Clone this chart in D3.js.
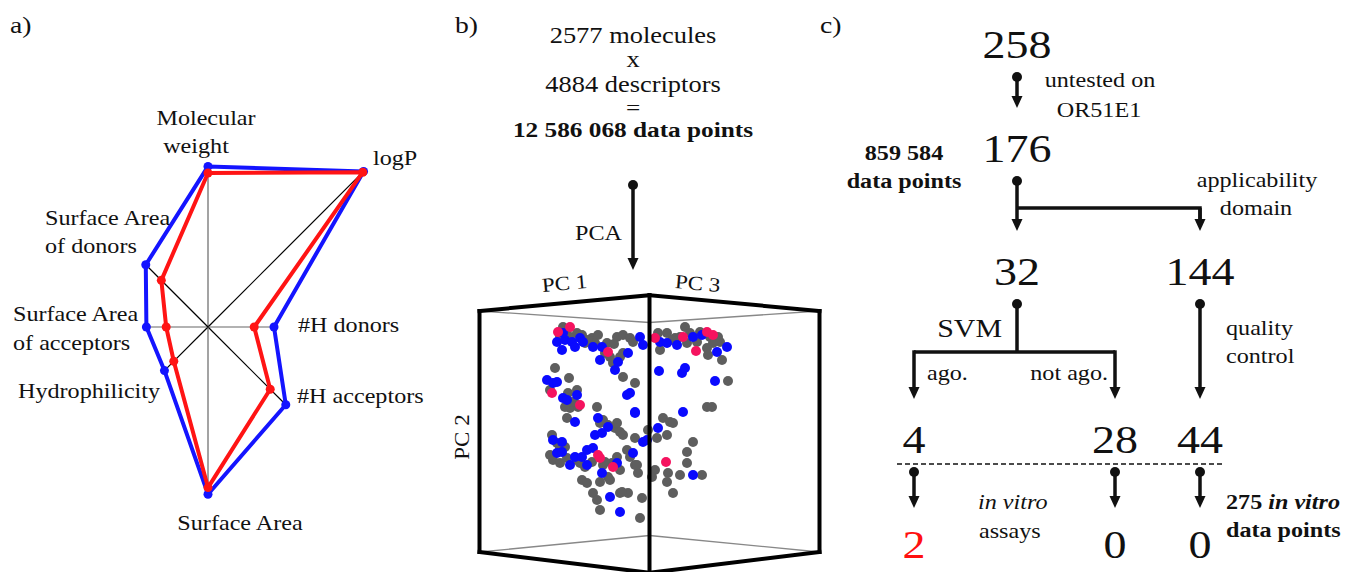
<!DOCTYPE html>
<html>
<head>
<meta charset="utf-8">
<script src="https://cdn.jsdelivr.net/npm/d3@7"></script>
<style>
  body { margin: 0; background: #fff; }
  svg { display: block; }
</style>
</head>
<body>
<div class="chart"></div>
<script>
// ---- data ----
// a) radar: values relative to the longest axis (logP)
const radarAxes = ['Molecular weight', 'logP', '#H donors', '#H acceptors',
  'Surface Area', 'Hydrophilicity', 'Surface Area of acceptors', 'Surface Area of donors'];
const blueValues = [0.73, 1.0, 0.30, 0.50, 0.76, 0.28, 0.28, 0.40];
const redValues = [0.70, 0.995, 0.21, 0.40, 0.73, 0.22, 0.19, 0.30];

// b) PCA projection (PC1/PC3 horizontal, PC2 vertical)
const grayPoints = [
  [-87, 105], [-83, 102], [-73, 99], [-68, 97], [-80, 95], [-65, 89], [-58, 94], [-52, 97], [-55, 89],
  [-43, 89], [-45, 79], [-40, 75], [-37, 69], [-30, 75], [-27, 79], [-33, 95], [-27, 97], [-20, 94],
  [-17, 90], [-27, 55], [-15, 49], [-62, 92], [-36, 88], [-90, 96],
  [8, 99], [17, 99], [10, 82], [25, 94], [30, 95], [35, 105], [40, 99], [37, 89], [47, 90], [60, 95],
  [68, 95], [70, 90], [57, 84], [58, 77], [72, 72], [63, 89], [78, 51], [22, 92], [50, 100], [65, 92],
  [-95, 64], [-81, 54], [-100, 42], [-82, 39], [-73, 42], [-75, 29], [-80, 24], [-72, 25], [-85, 25],
  [-83, 14], [-53, 25], [-78, 30],
  [-50, 9], [-47, 12], [-42, 7], [-35, 4], [-30, 0], [-27, -3], [-15, -6], [-2, 2], [7, -6], [-33, 9],
  [13, 14], [20, 10], [23, 9], [57, 25], [62, 25], [43, -10], [17, -3],
  [-98, -3], [-93, -11], [-85, -15], [-97, -28], [-100, -23], [-90, -31], [-83, -26], [-73, -28],
  [-65, -35], [-58, -30], [-47, -33], [-38, -31], [-33, -25], [-42, -45], [-23, -18], [-20, -25],
  [-15, -33], [-12, -41], [-30, -38], [-68, -48], [-63, -51], [-50, -50], [-40, -48],
  [-90, -16], [-70, -31], [-45, -30], [-13, -33],
  [37, -20], [37, -31], [18, -41], [30, -43], [52, -43], [17, -50], [5, -38], [2, -45],
  [-57, -61], [-53, -68], [-30, -61], [-22, -61], [-50, -78], [-10, -86], [-8, -66], [23, -61], [-28, -60]
];
const bluePoints = [
  [-93, 90], [-88, 82], [-85, 92], [-78, 90], [-75, 85], [-70, 94], [-67, 90], [-57, 85], [-48, 85],
  [-50, 72], [-35, 62], [-32, 70], [-22, 79], [-10, 95], [-7, 87], [-87, 99],
  [10, 90], [17, 89], [27, 87], [43, 95], [52, 97], [77, 85], [67, 80],
  [9, 61], [32, 59], [35, 64], [65, 51],
  [-103, 52], [-97, 49], [-93, 50], [-87, 34], [-83, 32], [-73, 37], [-75, 10],
  [-23, 37], [-20, 39], [-15, 20], [-52, 14], [-42, 5], [-55, -3], [-7, -10], [8, 4], [33, 20],
  [-48, -1], [-15, 19],
  [-97, -8], [-88, -10], [-93, -21], [-88, -20], [-80, -33], [-75, -25], [-68, -25], [-63, -18],
  [-57, -16], [-63, -33], [-48, -41], [-33, -31], [-17, -21],
  [43, -43], [-40, -65], [-30, -80], [-3, -8]
];
const pinkPoints = [
  [-92, 100], [-80, 105], [-42, 80], [5, 94], [33, 95], [57, 100], [63, 97], [46, 81],
  [-98, 39], [-70, 27], [-52, -23], [-50, -26], [-37, -35], [16, -30]
];

// c) flow counts
const stageCounts = [258, 176];
const domainCounts = [32, 144];
const classCounts = [4, 28, 44];
const assayCounts = [2, 0, 0];

// ---- drawing ----
const width = 1357;
const height = 572;
const stretch = 1.15; // the figure's lettering is slightly wide
const serif = '"Liberation Serif", "Times New Roman", Tinos, serif';

const svg = d3.select('.chart').append('svg')
  .attr('width', width)
  .attr('height', height);

function label(g, x, y, str, o = {}) {
  const t = g.append('text')
    .attr('transform', `translate(${x},${y}) scale(${stretch},1)`)
    .attr('text-anchor', o.anchor || 'start')
    .style('font-family', serif)
    .attr('font-size', o.size || 21)
    .attr('font-weight', o.weight || 'normal')
    .attr('font-style', o.italic ? 'italic' : 'normal')
    .attr('fill', o.fill || '#111');
  if (Array.isArray(str)) {
    str.forEach((s) => t.append('tspan').attr('font-style', s.italic ? 'italic' : null).text(s.text));
  } else {
    t.text(str);
  }
  return t;
}

// panel letters
label(svg, 10, 33, 'a)', { size: 24 });
label(svg, 455, 33, 'b)', { size: 24 });
label(svg, 820, 33, 'c)', { size: 24 });

// ---------- a) radar ----------
const radar = svg.append('g').attr('transform', 'translate(208,327)');
const rScale = d3.scaleLinear().domain([0, 1]).range([0, 220]);
const angle = (i) => (i * Math.PI) / 4;
const toXY = (v, i) => [rScale(v) * Math.sin(angle(i)), -rScale(v) * Math.cos(angle(i))];

radar.selectAll('line.axis')
  .data(radarAxes)
  .join('line')
  .attr('class', 'axis')
  .attr('x1', 0).attr('y1', 0)
  .attr('x2', (d, i) => toXY(Math.max(blueValues[i], redValues[i]), i)[0])
  .attr('y2', (d, i) => toXY(Math.max(blueValues[i], redValues[i]), i)[1])
  .attr('stroke', (d, i) => (i % 2 ? '#000' : '#666'))
  .attr('stroke-width', 1.2);

const radarLine = d3.line().curve(d3.curveLinearClosed);
[[blueValues, '#1414ff'], [redValues, '#ff1414']].forEach(([vals, col]) => {
  const pts = vals.map(toXY);
  radar.append('path')
    .attr('d', radarLine(pts))
    .attr('fill', 'none')
    .attr('stroke', col)
    .attr('stroke-width', 4)
    .attr('stroke-linejoin', 'round');
  radar.selectAll(null)
    .data(pts)
    .join('circle')
    .attr('cx', (d) => d[0])
    .attr('cy', (d) => d[1])
    .attr('r', 4.5)
    .attr('fill', col);
});

// axis names, placed around the web
const radarLabelPos = {
  'Molecular weight': [[-2, -202, 'middle', 'Molecular'], [-12, -174, 'middle', 'weight']],
  'logP': [[165, -162, 'start', 'logP']],
  '#H donors': [[90, 5, 'start', '#H donors']],
  '#H acceptors': [[89, 76, 'start', '#H acceptors']],
  'Surface Area': [[32, 203, 'middle', 'Surface Area']],
  'Hydrophilicity': [[-190, 71, 'start', 'Hydrophilicity']],
  'Surface Area of acceptors': [[-195, -6, 'start', 'Surface Area'], [-195, 23, 'start', 'of acceptors']],
  'Surface Area of donors': [[-163, -102, 'start', 'Surface Area'], [-163, -74, 'start', 'of donors']]
};
radarAxes.forEach((name) => {
  radarLabelPos[name].forEach(([x, y, anchor, s]) => label(radar, x, y, s, { anchor }));
});

// ---------- b) PCA ----------
const pb = svg.append('g');
const bx = 633;
label(pb, bx, 43, '2577 molecules', { anchor: 'middle', size: 23 });
label(pb, bx, 67, 'x', { anchor: 'middle', size: 23 });
label(pb, bx, 92, '4884 descriptors', { anchor: 'middle', size: 23 });
label(pb, bx, 115, '=', { anchor: 'middle', size: 22 });
label(pb, bx, 137, '12 586 068 data points', { anchor: 'middle', size: 22, weight: 'bold' });

function stem(g, x, y1, y2, dot = true) {
  if (dot) g.append('circle').attr('cx', x).attr('cy', y1).attr('r', 5).attr('fill', '#111');
  g.append('line')
    .attr('x1', x).attr('x2', x)
    .attr('y1', y1).attr('y2', y2 - 8)
    .attr('stroke', '#111').attr('stroke-width', 3.5);
  g.append('path')
    .attr('d', `M${x - 5.5},${y2 - 12}L${x + 5.5},${y2 - 12}L${x},${y2}Z`)
    .attr('fill', '#111');
}
stem(pb, bx, 185, 270);
label(pb, 622, 240, 'PCA', { anchor: 'end', size: 21 });

// cube: simple perspective of a unit cube turned 45 degrees
const cubeX = d3.scaleLinear().domain([-1, 1]).range([479.5, 819.5]);
const cubeY = d3.scaleLinear().domain([1, -1]).range([311, 552]);
const focal = 7.6;
function project(hx, vy, depth) {
  const f = focal / (focal + depth);
  const x0 = cubeX(0);
  const y0 = cubeY(0) - 2.5 * depth;
  return [x0 + (cubeX(hx) - x0) * f, y0 + (cubeY(vy) - cubeY(0)) * f];
}
const corner = {
  ft: project(0, 1, -1), fb: project(0, -1, -1),
  lt: project(-1, 1, 0), lb: project(-1, -1, 0),
  rt: project(1, 1, 0), rb: project(1, -1, 0),
  bt: project(0, 1, 1), bb: project(0, -1, 1)
};
const thinEdges = [['lt', 'bt'], ['rt', 'bt'], ['lb', 'bb'], ['rb', 'bb']];
const thickEdges = [['ft', 'fb'], ['ft', 'lt'], ['ft', 'rt'], ['lt', 'lb'], ['rt', 'rb'], ['fb', 'lb'], ['fb', 'rb']];

pb.selectAll('line.thin')
  .data(thinEdges)
  .join('line')
  .attr('x1', (d) => corner[d[0]][0]).attr('y1', (d) => corner[d[0]][1])
  .attr('x2', (d) => corner[d[1]][0]).attr('y2', (d) => corner[d[1]][1])
  .attr('stroke', '#888').attr('stroke-width', 1.3);

const xS = d3.scaleLinear().domain([-170, 170]).range([480, 820]);
const yS = d3.scaleLinear().domain([-120, 120]).range([552, 312]);
[[grayPoints, '#5e5e5e'], [bluePoints, '#0a0aff'], [pinkPoints, '#f5135f']].forEach(([pts, col]) => {
  pb.selectAll(null)
    .data(pts)
    .join('circle')
    .attr('cx', (d) => xS(d[0]))
    .attr('cy', (d) => yS(d[1]))
    .attr('r', 5)
    .attr('fill', col);
});

pb.selectAll('line.thick')
  .data(thickEdges)
  .join('line')
  .attr('x1', (d) => corner[d[0]][0]).attr('y1', (d) => corner[d[0]][1])
  .attr('x2', (d) => corner[d[1]][0]).attr('y2', (d) => corner[d[1]][1])
  .attr('stroke', '#000').attr('stroke-width', 4)
  .attr('stroke-linecap', 'square');

label(pb, 565, 290, 'PC 1', { anchor: 'middle', size: 20 }).attr('transform', `translate(565,290) rotate(-5) scale(${stretch},1)`);
label(pb, 697, 290, 'PC 3', { anchor: 'middle', size: 20 }).attr('transform', `translate(697,290) rotate(5) scale(${stretch},1)`);
label(pb, 469, 437, 'PC 2', { anchor: 'middle', size: 20 }).attr('transform', `translate(469,437) rotate(-90) scale(${stretch},1)`);

// ---------- c) flow ----------
const pc = svg.append('g');
const colX = d3.scaleOrdinal().domain(['ago', 'main', 'notAgo', 'side']).range([914, 1017, 1115, 1200]);
const rowY = d3.scaleOrdinal().domain(['start', 'tested', 'split', 'class', 'vitro']).range([58, 162, 285, 453, 558]);
const big = { anchor: 'middle', size: 40 };
const dotBelow = (row) => rowY(row) + 19;
const tipAbove = (row) => rowY(row) - 54;

label(pc, colX('main'), rowY('start'), stageCounts[0], big);
label(pc, colX('main'), rowY('tested'), stageCounts[1], big);
label(pc, colX('main'), rowY('split'), domainCounts[0], big);
label(pc, colX('side'), rowY('split'), domainCounts[1], big);
['ago', 'notAgo', 'side'].forEach((c, i) => {
  label(pc, colX(c), rowY('class'), classCounts[i], big);
  label(pc, colX(c), rowY('vitro'), assayCounts[i], { ...big, fill: i === 0 ? '#ff1010' : '#111' });
});

// 258 -> 176
stem(pc, colX('main'), dotBelow('start'), tipAbove('tested'));
label(pc, 1100, 87, 'untested on', { anchor: 'middle' });
label(pc, 1099, 117, 'OR51E1', { anchor: 'middle' });
label(pc, 904, 160, '859 584', { anchor: 'middle', weight: 'bold' });
label(pc, 904, 188, 'data points', { anchor: 'middle', weight: 'bold' });

// 176 -> 32 / 144
const branch1 = 208;
stem(pc, colX('main'), dotBelow('tested'), tipAbove('split'));
pc.append('path')
  .attr('d', `M${colX('main')},${branch1}H${colX('side')}V${tipAbove('split') - 8}`)
  .attr('fill', 'none').attr('stroke', '#111').attr('stroke-width', 3.5);
stem(pc, colX('side'), branch1, tipAbove('split'), false);
label(pc, 1257, 187, 'applicability', { anchor: 'middle' });
label(pc, 1256, 215, 'domain', { anchor: 'middle' });

// 32 -> SVM -> 4 / 28
const branch2 = 352;
pc.append('circle').attr('cx', colX('main')).attr('cy', dotBelow('split')).attr('r', 5).attr('fill', '#111');
pc.append('path')
  .attr('d', `M${colX('main')},${dotBelow('split')}V${branch2}M${colX('ago')},${branch2}H${colX('notAgo')}`)
  .attr('fill', 'none').attr('stroke', '#111').attr('stroke-width', 3.5);
stem(pc, colX('ago'), branch2 - 1.7, tipAbove('class'), false);
stem(pc, colX('notAgo'), branch2 - 1.7, tipAbove('class'), false);
label(pc, 1002, 337, 'SVM', { anchor: 'end', size: 26 });
label(pc, 927, 380, 'ago.');
label(pc, 1108, 380, 'not ago.', { anchor: 'end' });

// 144 -> 44
stem(pc, colX('side'), dotBelow('split'), tipAbove('class'));
label(pc, 1226, 335, 'quality');
label(pc, 1226, 363, 'control');

// in vitro step
pc.append('line')
  .attr('x1', 897).attr('x2', 1225)
  .attr('y1', rowY('class') + 11).attr('y2', rowY('class') + 11)
  .attr('stroke', '#111').attr('stroke-width', 1.5)
  .attr('stroke-dasharray', '5,3');
['ago', 'notAgo', 'side'].forEach((c) => stem(pc, colX(c), dotBelow('class'), tipAbove('vitro') + 4));
label(pc, 978, 509, 'in vitro', { italic: true });
label(pc, 979, 538, 'assays');
label(pc, 1226, 509, [{ text: '275 ' }, { text: 'in vitro', italic: true }], { weight: 'bold' });
label(pc, 1226, 537, 'data points', { weight: 'bold' });
</script>
</body>
</html>
